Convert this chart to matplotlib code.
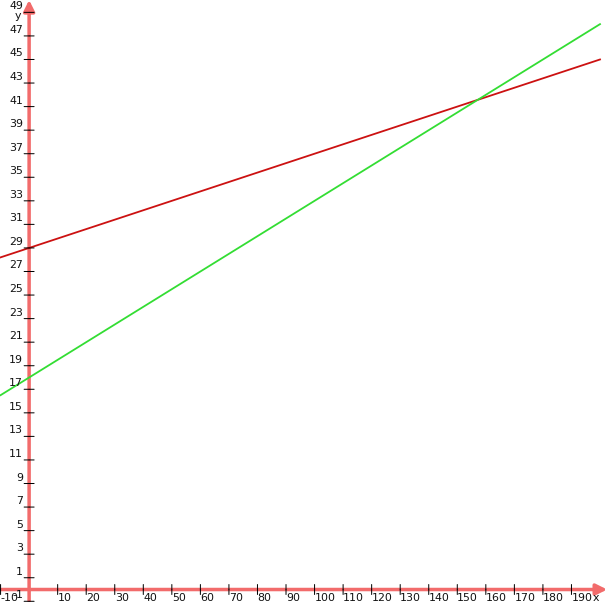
import numpy as np
import matplotlib
matplotlib.use('Agg')
import matplotlib.pyplot as plt

# two straight lines y = a + b*x
x_range = [-10, 200]
red_line = [29, 0.08]     # intercept, slope
green_line = [18, 0.15]

x_ticks = list(range(-10, 200, 10))
y_ticks = list(range(-1, 50, 2))

axis_col = '#f26b6b'
DPI = 72

fig = plt.figure(figsize=(608 / DPI, 602 / DPI), dpi=DPI)
ax = fig.add_axes([0, 0, 1, 1])
ax.set_xlim(-10.2, 202.8)
ax.set_ylim(-1.06, 50.05)
ax.axis('off')

xs = np.array(x_range, dtype=float)
ax.plot(xs, red_line[0] + red_line[1] * xs, color='#cc1111', lw=1.8, zorder=3)
ax.plot(xs, green_line[0] + green_line[1] * xs, color='#33dd33', lw=1.8, zorder=3)

# axes with arrows
ax.annotate('', xy=(0, 50.05), xytext=(0, -1.06),
            arrowprops=dict(arrowstyle='-|>,head_length=0.9,head_width=0.45',
                            color=axis_col, lw=3.5, shrinkA=0, shrinkB=0), zorder=2)
ax.annotate('', xy=(202.5, 0), xytext=(-10.2, 0),
            arrowprops=dict(arrowstyle='-|>,head_length=0.9,head_width=0.45',
                            color=axis_col, lw=3.5, shrinkA=0, shrinkB=0), zorder=2)

fs = 11
tc = '#111111'
for t in x_ticks:
    if t == 0:
        continue
    ax.annotate('', xy=(t, 0), xytext=(0, 5), textcoords='offset points',
                arrowprops=dict(arrowstyle='-', color='black', lw=1, shrinkA=0, shrinkB=0))
    ax.annotate('', xy=(t, 0), xytext=(0, -5), textcoords='offset points',
                arrowprops=dict(arrowstyle='-', color='black', lw=1, shrinkA=0, shrinkB=0))
    ax.annotate(str(t), xy=(t, 0), xytext=(0, -3), textcoords='offset points',
                ha='left', va='top', fontsize=fs, color=tc)

for t in y_ticks:
    ax.annotate('', xy=(0, t), xytext=(-5, 0), textcoords='offset points',
                arrowprops=dict(arrowstyle='-', color='black', lw=1, shrinkA=0, shrinkB=0))
    ax.annotate('', xy=(0, t), xytext=(5, 0), textcoords='offset points',
                arrowprops=dict(arrowstyle='-', color='black', lw=1, shrinkA=0, shrinkB=0))
    ax.annotate(str(t), xy=(0, t), xytext=(-6, 1), textcoords='offset points',
                ha='right', va='bottom', fontsize=fs, color=tc)

ax.annotate('y', xy=(0, 50.05), xytext=(-8, -11), textcoords='offset points',
            ha='right', va='top', fontsize=fs, color=tc)
ax.annotate('x', xy=(202.8, 0), xytext=(-9, -3), textcoords='offset points',
            ha='right', va='top', fontsize=fs, color=tc)

fig.savefig('out.png', dpi=DPI)
